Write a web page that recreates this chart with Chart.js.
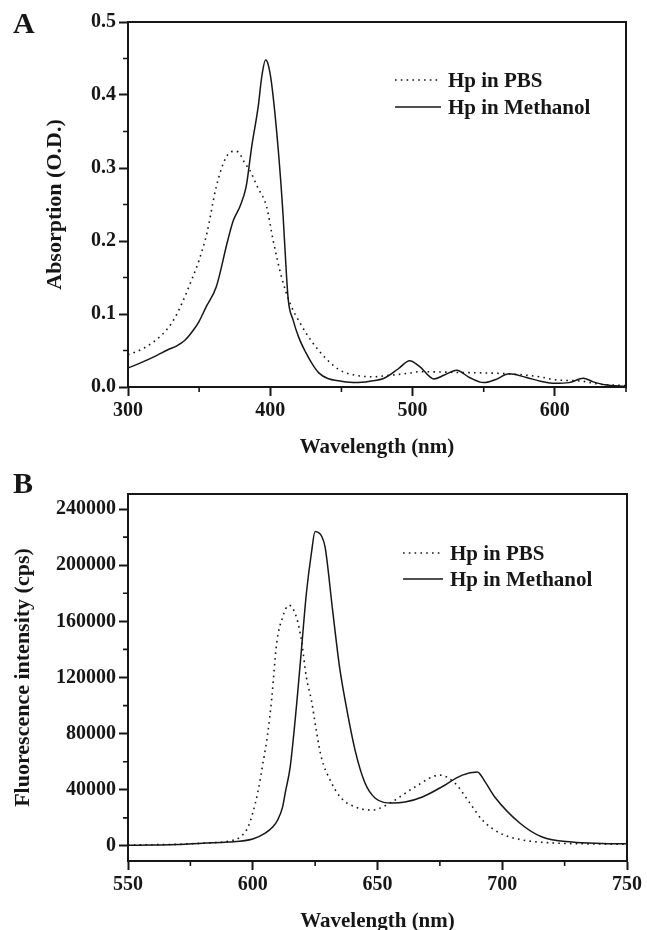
<!DOCTYPE html>
<html><head><meta charset="utf-8">
<style>
html,body{margin:0;padding:0;background:#fff;overflow:hidden;width:647px;height:930px;position:relative;}
#wa{position:absolute;left:0;top:0;width:647px;height:465px;}
#wb{position:absolute;left:0;top:465px;width:647px;height:475px;}
canvas{display:block;}
</style>
<script src="https://cdn.jsdelivr.net/npm/chart.js@4.4.1/dist/chart.umd.min.js"></script>
</head><body>
<div id="wa"><canvas id="ca" width="647" height="465"></canvas></div>
<div id="wb"><canvas id="cb" width="647" height="475"></canvas></div>
<script>
// ---------- Panel A: absorption ----------
const ABS_PBS_NM = [300,310,320,327,333,338,345,350,355.5,362,369,375,377.5,382,385.6,391,397.4,402,408,413.8,420.8,430,436.7,444,451,460,472,484,498,505,530,568,589,600,619,631,650];
const ABS_PBS_OD = [0.044,0.052,0.065,0.078,0.095,0.115,0.148,0.174,0.211,0.274,0.315,0.323,0.322,0.307,0.297,0.274,0.247,0.201,0.150,0.115,0.088,0.060,0.044,0.030,0.021,0.016,0.014,0.016,0.019,0.021,0.020,0.018,0.014,0.010,0.008,0.004,0.002];
const ABS_MEOH_NM = [300,310,320,328,334,340,346,350,355,362,370,374,378.6,383,387,391.5,394,396.7,398.5,400.9,405.6,409,410,412.6,416,420,425,430,434.3,440,450,460,470,480,490,498,505,515,522,531,540,550,558,568,580,590,600,610,620,627,635,650];
const ABS_MEOH_OD = [0.026,0.034,0.043,0.051,0.056,0.064,0.078,0.090,0.110,0.137,0.200,0.228,0.247,0.274,0.330,0.384,0.425,0.448,0.442,0.416,0.325,0.235,0.200,0.120,0.092,0.068,0.047,0.030,0.019,0.012,0.008,0.006,0.008,0.012,0.025,0.036,0.028,0.011,0.016,0.023,0.013,0.006,0.010,0.018,0.013,0.008,0.005,0.006,0.012,0.007,0.003,0.001];
const ABS_X_MAJOR = [300,400,500,600];
const ABS_X_MINOR = [350,450,550,650];
const ABS_Y_MAJOR = [0,0.1,0.2,0.3,0.4,0.5];
const ABS_Y_MINOR = [0.05,0.15,0.25,0.35,0.45];

// ---------- Panel B: fluorescence ----------
const FL_PBS_NM = [550,560,570,580,588,592,595,598,600,602,604,606,607.6,609.6,612,614.5,617.5,619.5,621.5,623.5,625.5,627.5,631,635,641,648,655,665,675,681,687,692,699,708,721,735,750];
const FL_PBS_CPS = [700,900,1200,2000,2800,4000,6400,13000,23500,38000,58000,80000,105000,144500,163000,171500,163000,146600,120000,104000,82000,63000,47000,35000,27800,25600,30600,42000,50500,44800,30600,18500,9200,4300,2100,1500,1200];
const FL_MEOH_NM = [550,560,570,580,590,600,605,608,610,612,613,615,617,618,619.5,621.5,623.5,625,626.5,627.5,629,632,634.8,637,641,645,649,656,661,668,675,684,690,693,697,707,716,728,740,750];
const FL_MEOH_CPS = [500,700,1000,2000,2800,5000,9200,13500,18500,28000,37700,56200,89700,109000,139500,180000,208500,224000,223000,221000,212800,168000,127400,104000,68300,44800,34200,30600,31300,34900,41300,50500,52700,46000,34900,16400,6400,2800,1800,1500];
const FL_X_MAJOR = [550,600,650,700,750];
const FL_X_MINOR = [575,625,675,725];
const FL_Y_MAJOR = [0,40000,80000,120000,160000,200000,240000];
const FL_Y_MINOR = [20000,60000,100000,140000,180000,220000];

const SERIES_LABELS = ['Hp in PBS','Hp in Methanol'];
const X_TITLE = 'Wavelength (nm)';

const INK = '#161616';
const FAMILY = '"Liberation Serif","Times New Roman",serif';

function pts(xs, ys){ return xs.map((x,i)=>({x:x, y:ys[i]})); }

const framePlugin = {
  id: 'frame',
  afterDraw(chart, args, o) {
    const {ctx, chartArea: a, scales} = chart;
    ctx.save();
    ctx.strokeStyle = INK;
    ctx.lineWidth = 2;
    ctx.beginPath();
    ctx.moveTo(a.left, a.top); ctx.lineTo(a.right, a.top); ctx.lineTo(a.right, a.bottom);
    ctx.stroke();
    ctx.lineWidth = 1.6;
    ctx.beginPath();
    o.xMinor.forEach(v => { const p = scales.x.getPixelForValue(v); ctx.moveTo(p, a.bottom); ctx.lineTo(p, a.bottom + 5); });
    o.yMinor.forEach(v => { const p = scales.y.getPixelForValue(v); ctx.moveTo(a.left - 5, p); ctx.lineTo(a.left, p); });
    ctx.stroke();
    // legend
    const L = o.legend;
    ctx.font = 'bold 21px ' + FAMILY;
    ctx.fillStyle = INK;
    ctx.textBaseline = 'middle';
    ctx.textAlign = 'left';
    chart.data.datasets.forEach((ds, i) => {
      ctx.save();
      ctx.lineWidth = ds.borderWidth;
      ctx.setLineDash(ds.borderDash || []);
      ctx.beginPath();
      ctx.moveTo(L.x1, L.rows[i] - 1.5); ctx.lineTo(L.x2, L.rows[i] - 1.5);
      ctx.stroke();
      ctx.restore();
      ctx.fillText(ds.label, L.tx, L.rows[i]);
    });
    // panel letter
    ctx.textBaseline = 'alphabetic';
    ctx.font = 'bold 30px ' + FAMILY;
    ctx.fillText(o.letter, 13, o.letterY);
    ctx.restore();
  }
};

function axisCommon(){
  return {
    type: 'linear',
    grid: { display: true, drawOnChartArea: false, drawTicks: true, tickLength: 9, tickWidth: 2, tickColor: INK },
    border: { display: true, color: INK, width: 2 },
    ticks: { color: INK, font: { family: FAMILY, size: 20, weight: 'bold' }, padding: 3 }
  };
}

function makeChart(canvasId, cfg){
  const x = axisCommon();
  x.min = cfg.xMin; x.max = cfg.xMax;
  x.afterBuildTicks = s => { s.ticks = cfg.xMajor.map(v => ({value: v})); };
  x.ticks.callback = v => String(v);
  x.ticks.maxRotation = 0; x.ticks.autoSkip = false;
  x.title = { display: true, text: X_TITLE, color: INK, font: { family: FAMILY, size: 21, weight: 'bold' }, padding: { top: 0, bottom: cfg.xTitlePad } };
  x.afterFit = s => { s.height = cfg.xAxisH; };

  const y = axisCommon();
  y.min = cfg.yMin; y.max = cfg.yMax;
  y.afterBuildTicks = s => { s.ticks = cfg.yMajor.map(v => ({value: v})); };
  y.ticks.callback = cfg.yFmt;
  y.ticks.padding = 3;
  y.ticks.autoSkip = false;
  y.title = { display: true, text: cfg.yTitle, color: INK, font: { family: FAMILY, size: 22, weight: 'bold' }, padding: { top: cfg.yTitlePad, bottom: 0 } };
  y.afterFit = s => { s.width = 128; };

  return new Chart(document.getElementById(canvasId), {
    type: 'line',
    data: {
      datasets: [
        { label: SERIES_LABELS[0], data: pts(cfg.s1x, cfg.s1y), borderColor: INK, borderWidth: 1.6, borderDash: [1.6, 4.2], pointRadius: 0, cubicInterpolationMode: 'monotone', fill: false },
        { label: SERIES_LABELS[1], data: pts(cfg.s2x, cfg.s2y), borderColor: INK, borderWidth: 1.5, pointRadius: 0, cubicInterpolationMode: 'monotone', fill: false }
      ]
    },
    options: {
      responsive: false,
      animation: false,
      devicePixelRatio: 1,
      layout: { padding: { left: 0, top: cfg.padTop, right: cfg.padRight, bottom: 0 } },
      plugins: {
        legend: { display: false },
        tooltip: { enabled: false },
        frame: { xMinor: cfg.xMinor, yMinor: cfg.yMinor, legend: cfg.legend, letter: cfg.letter, letterY: cfg.letterY }
      },
      scales: { x: x, y: y }
    },
    plugins: [framePlugin]
  });
}

makeChart('ca', {
  xMin: 300, xMax: 650, xMajor: ABS_X_MAJOR, xMinor: ABS_X_MINOR,
  yMin: 0, yMax: 0.5, yMajor: ABS_Y_MAJOR, yMinor: ABS_Y_MINOR,
  yFmt: v => v.toFixed(1), yTitle: 'Absorption (O.D.)',
  s1x: ABS_PBS_NM, s1y: ABS_PBS_OD, s2x: ABS_MEOH_NM, s2y: ABS_MEOH_OD,
  padTop: 22, padRight: 21, xAxisH: 78, xTitlePad: 4.5, yTitlePad: 42,
  legend: { x1: 395, x2: 441, tx: 448, rows: [81.5, 108.5] },
  letter: 'A', letterY: 33
});

makeChart('cb', {
  xMin: 550, xMax: 750, xMajor: FL_X_MAJOR, xMinor: FL_X_MINOR,
  yMin: -10700, yMax: 250700, yMajor: FL_Y_MAJOR, yMinor: FL_Y_MINOR,
  yFmt: v => String(v), yTitle: 'Fluorescence intensity (cps)',
  s1x: FL_PBS_NM, s1y: FL_PBS_CPS, s2x: FL_MEOH_NM, s2y: FL_MEOH_CPS,
  padTop: 29, padRight: 20, xAxisH: 79, xTitlePad: 6, yTitlePad: 10,
  legend: { x1: 403, x2: 443, tx: 450, rows: [89.5, 115.5] },
  letter: 'B', letterY: 28
});
</script>
</body></html>
